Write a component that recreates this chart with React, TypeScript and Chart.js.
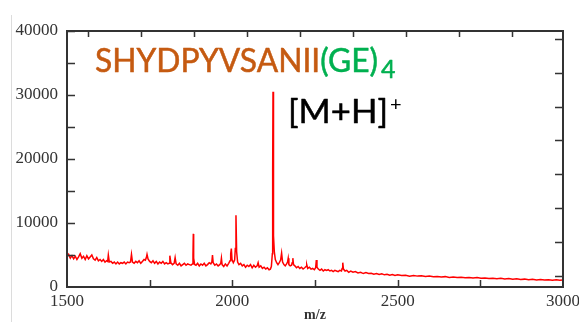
import React, { useEffect, useRef } from "react";
import { Chart, registerables } from "chart.js";

Chart.register(...registerables);

// m/z positions of the sampled spectrum
const mzValues = [
  1500, 1505, 1510, 1515, 1520, 1525, 1530, 1535, 1540, 1545,
  1550, 1555, 1560, 1565, 1570, 1575, 1580, 1585, 1590, 1595,
  1600, 1605, 1610, 1615, 1620, 1623, 1625, 1628, 1633, 1638,
  1643, 1648, 1653, 1658, 1663, 1668, 1673, 1678, 1683, 1688,
  1692, 1695, 1698, 1703, 1708, 1713, 1718, 1723, 1728, 1733,
  1737, 1740, 1742, 1745, 1750, 1755, 1760, 1765, 1770, 1775,
  1780, 1785, 1790, 1795, 1800, 1805, 1809, 1811, 1814, 1819,
  1824, 1827, 1830, 1835, 1840, 1845, 1850, 1855, 1860, 1865,
  1870, 1875, 1879, 1881, 1882, 1883, 1886, 1890, 1895, 1900,
  1905, 1910, 1915, 1920, 1925, 1930, 1935, 1938, 1940, 1942,
  1947, 1952, 1957, 1962, 1965, 1967, 1969, 1974, 1979, 1984,
  1989, 1993, 1995, 1997, 1999, 2003, 2007, 2009, 2011, 2013,
  2016, 2020, 2025, 2030, 2035, 2040, 2045, 2050, 2055, 2060,
  2065, 2070, 2075, 2078, 2081, 2086, 2091, 2096, 2101, 2106,
  2111, 2115, 2118, 2121, 2122, 2123, 2124, 2125, 2127, 2130,
  2134, 2138, 2142, 2146, 2149, 2152, 2156, 2160, 2164, 2167,
  2169, 2171, 2175, 2179, 2181, 2183, 2185, 2189, 2194, 2199,
  2204, 2209, 2214, 2219, 2223, 2225, 2228, 2233, 2238, 2243,
  2248, 2252, 2254, 2256, 2260, 2265, 2270, 2275, 2280, 2285,
  2290, 2295, 2300, 2305, 2310, 2315, 2320, 2325, 2330, 2332,
  2334, 2336, 2341, 2346, 2352, 2358, 2365, 2372, 2380, 2388,
  2396, 2404, 2412, 2420, 2428, 2436, 2444, 2452, 2460, 2468,
  2476, 2484, 2492, 2500, 2512, 2524, 2536, 2548, 2560, 2572,
  2584, 2596, 2608, 2620, 2632, 2644, 2656, 2668, 2680, 2692,
  2704, 2716, 2728, 2740, 2752, 2764, 2776, 2788, 2800, 2812,
  2824, 2836, 2848, 2860, 2872, 2884, 2896, 2908, 2920, 2932,
  2944, 2956, 2968, 2980, 2990, 3000,
];

// intensity at each m/z above
const intensities = [
  4700, 5100, 4500, 4900, 4400, 4800, 4300, 4700, 5200, 4500,
  4800, 4300, 4900, 4400, 4700, 5000, 4400, 4200, 4600, 4100,
  4300, 4000, 4300, 3900, 4100, 4000, 5000, 3900, 4000, 3700,
  3900, 3600, 3900, 3600, 3800, 3700, 3900, 3600, 3900, 3800,
  3900, 5100, 3900, 3700, 4000, 3800, 4100, 3700, 4000, 4300,
  4200, 4600, 5100, 4400, 4000, 3800, 4100, 3700, 4000, 3600,
  3900, 3700, 4000, 3600, 3800, 3600, 3700, 4900, 3800, 3500,
  3700, 4600, 3600, 3400, 3700, 3300, 3500, 3700, 3400, 3600,
  3500, 3400, 3600, 5000, 8300, 4500, 3500, 3400, 3700, 3300,
  3600, 3400, 3700, 3300, 3500, 3800, 3600, 3900, 5000, 3800,
  3400, 3600, 3300, 3500, 3700, 4500, 3500, 3200, 3600, 3300,
  3700, 4100, 5200, 6000, 4300, 3800, 4200, 6000, 11200, 5500,
  3900, 3500, 3700, 3300, 3500, 3100, 3400, 3200, 3500, 3000,
  3400, 3100, 3300, 3800, 3100, 3300, 2900, 3100, 2800, 3000,
  2700, 2800, 3200, 5200, 18000, 30500, 22000, 8000, 5500, 4300,
  3800, 3500, 3800, 4200, 5300, 3900, 3500, 3300, 3600, 3900,
  4500, 3500, 3300, 3400, 3800, 4500, 3500, 3300, 3000, 3200,
  2900, 3100, 2800, 3000, 3200, 3500, 2900, 3100, 2800, 2900,
  2700, 3000, 4200, 3100, 2800, 2600, 2800, 2500, 2700, 2600,
  2700, 2500, 2600, 2400, 2600, 2500, 2400, 2600, 2500, 2900,
  3800, 2800, 2500, 2600, 2300, 2500, 2300, 2400, 2200, 2300,
  2100, 2250, 2100, 2150, 2000, 2100, 1950, 2050, 1900, 2000,
  1850, 1950, 1800, 1900, 1800, 1850, 1700, 1800, 1700, 1750,
  1650, 1700, 1600, 1650, 1550, 1620, 1500, 1580, 1480, 1540,
  1450, 1500, 1400, 1470, 1350, 1420, 1330, 1380, 1300, 1350,
  1250, 1320, 1200, 1270, 1180, 1230, 1150, 1200, 1100, 1170,
  1080, 1150, 1050, 1120, 1060, 1100,
];

const xTickValues = [1500, 2000, 2500, 3000];
const yTickValues = [0, 10000, 20000, 30000, 40000];
const leftMinorTicks = [5000, 10000, 15000, 20000, 25000, 30000, 35000, 40000];
const bottomMinorTicks = [1750, 2000, 2250, 2500, 2750];
const topTicks = [1565, 1725, 1885, 2045, 2205, 2365, 2525, 2685, 2845];
const rightTicks = [1700, 7000, 12300, 17600, 22900, 28200, 33500, 38800];

const peptideMain = "SHYDPYVSANII";
const peptideTail = "(GE)";
const peptideSub = "4";
const ionLabel = "[M+H]";
const ionCharge = "+";

const framePlugin = {
  id: "frame",
  beforeDraw(chart: any) {
    const ctx = chart.ctx;
    ctx.save();
    ctx.strokeStyle = "#dcdcdc";
    ctx.lineWidth = 1;
    ctx.beginPath();
    ctx.moveTo(11.5, 15);
    ctx.lineTo(11.5, 322);
    ctx.stroke();
    ctx.restore();
  },
  afterDraw(chart: any) {
    const ctx = chart.ctx;
    const { left, right, top, bottom } = chart.chartArea;
    const x = chart.scales.x;
    const y = chart.scales.y;
    ctx.save();
    ctx.strokeStyle = "#333333";
    ctx.lineWidth = 1.5;
    ctx.beginPath();
    leftMinorTicks.forEach((v) => {
      const py = Math.round(y.getPixelForValue(v)) + 0.5;
      ctx.moveTo(left, py);
      ctx.lineTo(left + 8, py);
    });
    rightTicks.forEach((v) => {
      const py = Math.round(y.getPixelForValue(v)) + 0.5;
      ctx.moveTo(right, py);
      ctx.lineTo(right - 8, py);
    });
    bottomMinorTicks.forEach((v) => {
      const px = Math.round(x.getPixelForValue(v)) + 0.5;
      ctx.moveTo(px, bottom);
      ctx.lineTo(px, bottom - 7);
    });
    topTicks.forEach((v) => {
      const px = Math.round(x.getPixelForValue(v)) + 0.5;
      ctx.moveTo(px, top);
      ctx.lineTo(px, top + 6);
    });
    ctx.stroke();
    ctx.lineWidth = 2;
    ctx.strokeRect(left, top, right - left, bottom - top);

    // peptide label
    ctx.textBaseline = "alphabetic";
    ctx.textAlign = "left";
    ctx.lineJoin = "round";
    ctx.font = "32px Lato";
    const wa = ctx.measureText(peptideMain).width;
    const wb = ctx.measureText(peptideTail).width;
    const sx = 283 / (wa + wb);
    ctx.save();
    ctx.translate(95, 71.5);
    ctx.scale(sx, 1);
    ctx.lineWidth = 0.5;
    ctx.fillStyle = "#c55a11";
    ctx.strokeStyle = "#c55a11";
    ctx.fillText(peptideMain, 0, 0);
    ctx.strokeText(peptideMain, 0, 0);
    ctx.fillStyle = "#00b050";
    ctx.strokeStyle = "#00b050";
    ctx.fillText(peptideTail, wa, 0);
    ctx.strokeText(peptideTail, wa, 0);
    ctx.restore();
    ctx.font = "25px Lato";
    ctx.fillStyle = "#00b050";
    ctx.strokeStyle = "#00b050";
    ctx.lineWidth = 0.5;
    ctx.fillText(peptideSub, 381, 77.5);
    ctx.strokeText(peptideSub, 381, 77.5);

    // ion label
    ctx.font = "32px Lato";
    const wi = ctx.measureText(ionLabel).width;
    ctx.save();
    ctx.translate(288, 123);
    ctx.scale(100 / wi, 1);
    ctx.fillStyle = "#000000";
    ctx.strokeStyle = "#000000";
    ctx.lineWidth = 0.5;
    ctx.fillText(ionLabel, 0, 0);
    ctx.strokeText(ionLabel, 0, 0);
    ctx.restore();
    ctx.font = "20px Lato";
    ctx.fillStyle = "#000000";
    ctx.fillText(ionCharge, 390, 111);
    ctx.restore();
  },
};

export default function App() {
  const canvasRef = useRef<HTMLCanvasElement | null>(null);

  useEffect(() => {
    if (!canvasRef.current) return;
    const points = mzValues.map((m, i) => ({ x: m, y: intensities[i] }));
    const tickFont = { family: "'Liberation Serif', 'Times New Roman', serif", size: 17 };
    const chart = new Chart(canvasRef.current, {
      type: "line",
      data: {
        datasets: [
          {
            data: points,
            borderColor: "#ff0000",
            borderWidth: 1.5,
            pointRadius: 0,
            tension: 0,
            fill: false,
          },
        ],
      },
      options: {
        animation: false,
        responsive: false,
        devicePixelRatio: 1,
        parsing: false as any,
        layout: { padding: { top: 31, right: 16, left: 0, bottom: 0 } },
        plugins: { legend: { display: false }, tooltip: { enabled: false } },
        scales: {
          x: {
            type: "linear",
            min: 1500,
            max: 3000,
            afterBuildTicks: (scale: any) => {
              scale.ticks = xTickValues.map((v) => ({ value: v }));
            },
            afterFit: (scale: any) => {
              scale.height = 35;
              scale.paddingLeft = 0;
              scale.paddingRight = 0;
            },
            grid: { display: false, drawTicks: false },
            border: { display: false },
            ticks: {
              font: tickFont,
              color: "#333333",
              padding: 4,
              maxRotation: 0,
              autoSkip: false,
              callback: (v: any) => String(v),
            },
            title: {
              display: true,
              text: "m/z",
              font: { family: "'Liberation Serif', serif", size: 14, weight: "bold" },
              color: "#333333",
              padding: { top: 0, bottom: -2 },
            },
          },
          y: {
            type: "linear",
            min: 0,
            max: 40000,
            afterBuildTicks: (scale: any) => {
              scale.ticks = yTickValues.map((v) => ({ value: v }));
            },
            afterFit: (scale: any) => {
              scale.width = 67;
              scale.paddingTop = 0;
              scale.paddingBottom = 0;
            },
            grid: { display: false, drawTicks: false },
            border: { display: false },
            ticks: {
              font: tickFont,
              color: "#333333",
              padding: 9,
              callback: (v: any) => String(v),
            },
          },
        },
      },
      plugins: [framePlugin],
    });
    return () => chart.destroy();
  }, []);

  return (
    <div style={{ position: "fixed", left: 0, top: 0, width: 579, height: 322, background: "#ffffff" }}>
      <canvas ref={canvasRef} width={579} height={322} />
    </div>
  );
}
